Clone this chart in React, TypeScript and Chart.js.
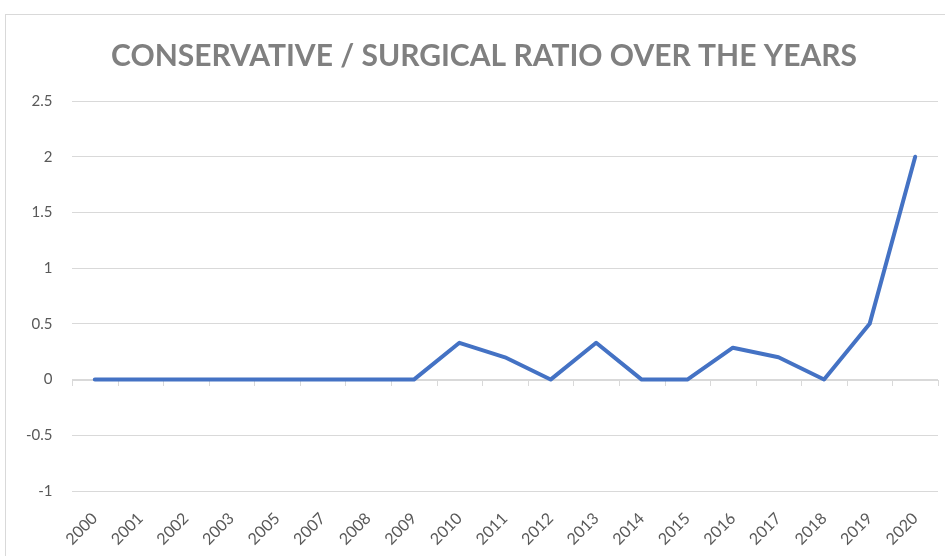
import React, { useEffect, useRef } from "react";
import { Chart, registerables } from "chart.js";

Chart.register(...registerables);

const years = ["2000", "2001", "2002", "2003", "2005", "2007", "2008", "2009", "2010", "2011", "2012", "2013", "2014", "2015", "2016", "2017", "2018", "2019", "2020"];
const ratio = [0, 0, 0, 0, 0, 0, 0, 0, 0.33, 0.2, 0, 0.33, 0, 0, 0.286, 0.2, 0, 0.5, 2];
const titleText = "CONSERVATIVE / SURGICAL RATIO OVER THE YEARS";
const yMin = -1;
const yMax = 2.5;
const yStep = 0.5;

const zeroAxisPlugin = {
  id: "zeroAxis",
  beforeDatasetsDraw(chart: any) {
    const { ctx, scales } = chart;
    const x = scales.x;
    const y = scales.y;
    const y0 = Math.round(y.getPixelForValue(0));
    const n = years.length;
    const step = x.getPixelForValue(1) - x.getPixelForValue(0);
    ctx.save();
    ctx.strokeStyle = "#d9d9d9";
    ctx.lineWidth = 1;
    ctx.beginPath();
    ctx.moveTo(chart.chartArea.left, y0 + 0.5);
    ctx.lineTo(chart.chartArea.right, y0 + 0.5);
    for (let i = 0; i <= n; i++) {
      let px = x.getPixelForValue(0) - step / 2 + i * step;
      px = Math.round(px) + 0.5;
      ctx.moveTo(px, y0);
      ctx.lineTo(px, y0 + 6);
    }
    ctx.stroke();
    ctx.restore();
  },
};

export default function App() {
  const ref = useRef<HTMLCanvasElement | null>(null);
  useEffect(() => {
    if (!ref.current) return;
    const chart = new Chart(ref.current, {
      type: "line",
      data: {
        labels: years,
        datasets: [
          {
            data: ratio,
            borderColor: "#4472c4",
            borderWidth: 4,
            pointRadius: 0,
            tension: 0,
            fill: false,
            borderJoinStyle: "round",
            borderCapStyle: "round",
          },
        ],
      },
      options: {
        animation: false,
        responsive: false,
        maintainAspectRatio: false,
        layout: { padding: { left: 24, right: 24, top: 0, bottom: 0 } },
        plugins: {
          legend: { display: false },
          tooltip: { enabled: false },
          title: {
            display: true,
            text: titleText,
            color: "#808080",
            font: { family: "Lato", size: 30, weight: "bold" },
            padding: { top: 23, bottom: 27 },
          },
        },
        scales: {
          x: {
            type: "category",
            offset: true,
            grid: { display: false, drawTicks: false },
            border: { display: false },
            ticks: {
              color: "#595959",
              font: { family: "Lato", size: 16 },
              minRotation: 45,
              maxRotation: 45,
              autoSkip: false,
              padding: 18,
            },
            afterFit: (s: any) => {
              s.height = 104;
            },
          },
          y: {
            min: yMin,
            max: yMax,
            grid: { color: "#d9d9d9", lineWidth: 1, drawTicks: false },
            border: { display: false },
            ticks: {
              stepSize: yStep,
              color: "#595959",
              font: { family: "Lato", size: 15 },
              mirror: true,
              crossAlign: "far",
              padding: -46,
              callback: (v: any) => String(Math.round(Number(v) * 10) / 10),
            },
            afterFit: (s: any) => {
              s.width = 42;
            },
          },
        },
      },
      plugins: [zeroAxisPlugin],
    } as any);
    return () => chart.destroy();
  }, []);

  return (
    <div style={{ position: "absolute", left: 0, top: 0, width: 945, height: 556, overflow: "hidden", background: "#ffffff" }}>
      <div style={{ position: "absolute", left: 5, top: 14, width: 960, height: 600, border: "1px solid #d9d9d9", boxSizing: "border-box" }}>
        <canvas ref={ref} width={956} height={580} style={{ display: "block", width: 956, height: 580 }} />
      </div>
    </div>
  );
}
